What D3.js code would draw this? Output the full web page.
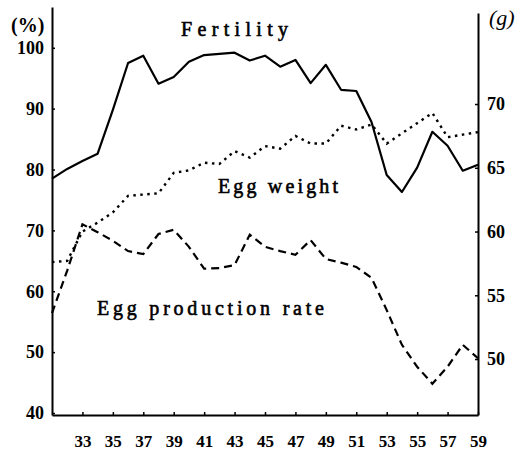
<!DOCTYPE html>
<html><head><meta charset="utf-8">
<script src="https://cdn.jsdelivr.net/npm/d3@7/dist/d3.min.js"></script>
<style>body{margin:0;background:#fff}</style>
</head><body>
<svg id="c" width="523" height="451"></svg>
<script>
const weeks = [31,32,33,34,35,36,37,38,39,40,41,42,43,44,45,46,47,48,49,50,51,52,53,54,55,56,57,58,59];
const fertility = [78.5,80.1,81.4,82.6,89.8,97.5,98.7,94.1,95.2,97.7,98.8,99.0,99.2,97.9,98.7,96.9,98.0,94.2,97.2,93.1,92.9,87.8,79.1,76.3,80.3,86.2,83.9,79.8,80.8];
const eggWeight = [57.6,57.7,60.0,60.7,61.5,62.8,62.9,63.0,64.6,64.8,65.4,65.3,66.3,65.8,66.7,66.5,67.5,66.9,66.9,68.3,68.0,68.4,66.9,67.7,68.5,69.3,67.4,67.6,67.8];
const eggProduction = [56.4,63.4,71.0,69.7,68.3,66.6,66.1,69.4,70.1,67.3,63.7,63.8,64.3,69.3,67.3,66.6,66.0,68.4,65.3,64.7,64.0,62.2,56.9,51.2,47.6,44.8,47.6,51.2,49.0];
const xTicks = [33,35,37,39,41,43,45,47,49,51,53,55,57,59];
const leftTicks = [40,50,60,70,80,90,100];
const rightTicks = [50,55,60,65,70];

const svg = d3.select("#c");
const x = d3.scaleLinear().domain([31,59]).range([52,478]);
const yL = d3.scaleLinear().domain([39.67,106.7]).range([415,7]);
const yR = d3.scaleLinear().domain([45.61,77.14]).range([415,13]);
const numFont = "'Liberation Serif', serif";

function styleAxis(g, size){
  g.select(".domain").attr("stroke","#000").attr("stroke-width",2);
  g.selectAll(".tick line").attr("stroke","#000").attr("stroke-width",1.5);
  g.selectAll(".tick text").attr("fill","#000").attr("font-family",numFont)
    .attr("font-weight","bold").attr("font-size",size);
}

const gL = svg.append("g").attr("transform","translate(52,0)")
  .call(d3.axisLeft(yL).tickValues(leftTicks).tickSizeInner(-3).tickSizeOuter(0).tickPadding(8));
styleAxis(gL, 18);

const gR = svg.append("g").attr("transform","translate(478,0)")
  .call(d3.axisRight(yR).tickValues(rightTicks).tickSizeInner(-3).tickSizeOuter(0).tickPadding(9));
styleAxis(gR, 18);

const gB = svg.append("g").attr("transform","translate(0,415)")
  .call(d3.axisBottom(x).tickValues(xTicks).tickSizeInner(-3).tickSizeOuter(0).tickPadding(20));
styleAxis(gB, 17);

const lineL = (vals) => d3.line().x((d,i)=>x(weeks[i])).y(d=>yL(d))(vals);
const lineR = (vals) => d3.line().x((d,i)=>x(weeks[i])).y(d=>yR(d))(vals);

svg.append("path").attr("d", lineL(fertility)).attr("fill","none")
  .attr("stroke","#000").attr("stroke-width",2.2).attr("stroke-linejoin","round");
svg.append("path").attr("d", lineR(eggWeight)).attr("fill","none")
  .attr("stroke","#000").attr("stroke-width",2.4).attr("stroke-dasharray","2.5,4.5");
svg.append("path").attr("d", lineL(eggProduction)).attr("fill","none")
  .attr("stroke","#000").attr("stroke-width",2.2).attr("stroke-dasharray","8,5");

const lab = (t, x0, y0, w, fs) => svg.append("text").text(t).attr("x",x0).attr("y",y0)
  .attr("font-family","'Liberation Serif', serif").attr("font-weight","normal")
  .attr("stroke","#000").attr("stroke-width",0.6)
  .attr("font-size",fs).attr("textLength",w).attr("lengthAdjust","spacing").attr("fill","#000");
lab("Fertility", 181, 36, 107, 20);
lab("Egg weight", 218, 193, 120, 20);
lab("Egg production rate", 97, 315, 227, 20);

svg.append("text").text("(%)").attr("x",11).attr("y",32)
  .attr("font-family",numFont).attr("font-weight","bold").attr("font-size",20).attr("fill","#000");
svg.append("text").text("(g)").attr("x",489).attr("y",25)
  .attr("font-family",numFont).attr("font-style","italic").attr("font-size",22).attr("fill","#000");
</script>
</body></html>
